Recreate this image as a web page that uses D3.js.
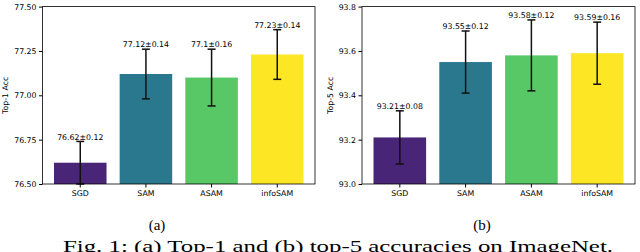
<!DOCTYPE html>
<html>
<head>
<meta charset="utf-8">
<script src="https://cdn.jsdelivr.net/npm/d3@7"></script>
<style>
  html, body { margin: 0; padding: 0; background: #fff; }
  svg { display: block; }
  .tick text { font-family: "DejaVu Sans", sans-serif; font-size: 7.8px; fill: #000; }
</style>
</head>
<body>
<div id="chart"></div>
<script>
// methods on the x axis
const methods = ["SGD", "SAM", "ASAM", "infoSAM"];
const barColors = ["#482576", "#2a788e", "#58c765", "#fde725"];

// (a) top-1
const top1Mean = [76.62, 77.12, 77.1, 77.23];
const top1Err = [0.12, 0.14, 0.16, 0.14];
const top1Labels = ["76.62±0.12", "77.12±0.14", "77.1±0.16", "77.23±0.14"];
const top1Ticks = [76.5, 76.75, 77.0, 77.25, 77.5];

// (b) top-5 -- drawn error bars
const top5Mean = [93.21, 93.55, 93.58, 93.59];
const top5Err = [0.12, 0.14, 0.16, 0.14];
const top5Labels = ["93.21±0.08", "93.55±0.12", "93.58±0.12", "93.59±0.16"];
const top5Ticks = [93.0, 93.2, 93.4, 93.6, 93.8];

const W = 640, H = 252;
const svg = d3.select("#chart").append("svg")
    .attr("width", W)
    .attr("height", H);

function panel(opt) {
    const g = svg.append("g");
    const x = d3.scaleBand()
        .domain(methods)
        .range([opt.x0, opt.x1])
        .paddingInner(0.2)
        .paddingOuter(0.175);
    const y = d3.scaleLinear()
        .domain(opt.domain)
        .range([184, 6.6]);

    // bars
    g.selectAll("rect.bar")
        .data(methods)
        .enter().append("rect")
        .attr("class", "bar")
        .attr("x", d => x(d))
        .attr("width", x.bandwidth())
        .attr("y", (d, i) => y(opt.mean[i]))
        .attr("height", (d, i) => y(opt.domain[0]) - y(opt.mean[i]))
        .attr("fill", (d, i) => barColors[i]);

    // error bars
    const eb = g.selectAll("g.err")
        .data(methods)
        .enter().append("g")
        .attr("class", "err")
        .attr("stroke", "#111")
        .attr("stroke-width", 1.5);
    const cx = d => x(d) + x.bandwidth() / 2;
    eb.append("line")
        .attr("x1", cx).attr("x2", cx)
        .attr("y1", (d, i) => y(opt.mean[i] - opt.err[i]))
        .attr("y2", (d, i) => y(opt.mean[i] + opt.err[i]));
    eb.append("line")
        .attr("x1", d => cx(d) - 4).attr("x2", d => cx(d) + 4)
        .attr("y1", (d, i) => y(opt.mean[i] + opt.err[i]))
        .attr("y2", (d, i) => y(opt.mean[i] + opt.err[i]));
    eb.append("line")
        .attr("x1", d => cx(d) - 4).attr("x2", d => cx(d) + 4)
        .attr("y1", (d, i) => y(opt.mean[i] - opt.err[i]))
        .attr("y2", (d, i) => y(opt.mean[i] - opt.err[i]));

    // value labels
    g.selectAll("text.val")
        .data(methods)
        .enter().append("text")
        .attr("class", "val")
        .attr("x", cx)
        .attr("y", (d, i) => y(opt.mean[i] + opt.err[i]) - 1.8)
        .attr("text-anchor", "middle")
        .style("font-family", "DejaVu Sans, sans-serif")
        .style("font-size", "7.8px")
        .text((d, i) => opt.labels[i]);

    // axes
    g.append("g")
        .attr("transform", "translate(0,184)")
        .call(d3.axisBottom(x).tickSize(3.5).tickPadding(2.5))
        .call(a => a.select(".domain").remove());
    g.append("g")
        .attr("transform", `translate(${opt.x0},0)`)
        .call(d3.axisLeft(y).tickValues(opt.ticks).tickFormat(d3.format(opt.fmt)).tickSize(3.5).tickPadding(2.5))
        .call(a => a.select(".domain").remove());

    // frame
    g.append("rect")
        .attr("x", opt.x0).attr("y", 6.6)
        .attr("width", opt.x1 - opt.x0).attr("height", 184 - 6.6)
        .attr("fill", "none")
        .attr("stroke", "#000")
        .attr("stroke-width", 0.8);

    // y label
    g.append("text")
        .attr("transform", `translate(${opt.yl},${(184 + 6.6) / 2}) rotate(-90)`)
        .attr("text-anchor", "middle")
        .style("font-family", "DejaVu Sans, sans-serif")
        .style("font-size", "7.8px")
        .text(opt.ylabel);

    // sub caption
    svg.append("text")
        .attr("x", opt.cap)
        .attr("y", 230)
        .attr("text-anchor", "middle")
        .style("font-family", "Liberation Serif, serif")
        .style("font-size", "15px")
        .text(opt.sub);
}

panel({ x0: 42.5, x1: 315, domain: [76.5, 77.5], mean: top1Mean, err: top1Err,
        labels: top1Labels, ticks: top1Ticks, fmt: ".2f", ylabel: "Top-1 Acc", yl: 8, cap: 157, sub: "(a)" });
panel({ x0: 362, x1: 635, domain: [93.0, 93.8], mean: top5Mean, err: top5Err,
        labels: top5Labels, ticks: top5Ticks, fmt: ".1f", ylabel: "Top-5 Acc", yl: 333, cap: 482, sub: "(b)" });

// figure caption (runs into the bottom edge, as in the source)
svg.append("text")
    .attr("x", 63)
    .attr("y", 252)
    .attr("textLength", 550)
    .attr("lengthAdjust", "spacingAndGlyphs")
    .style("font-family", "Liberation Serif, serif")
    .style("font-size", "16px")
    .text("Fig. 1: (a) Top-1 and (b) top-5 accuracies on ImageNet.");
</script>
</body>
</html>
